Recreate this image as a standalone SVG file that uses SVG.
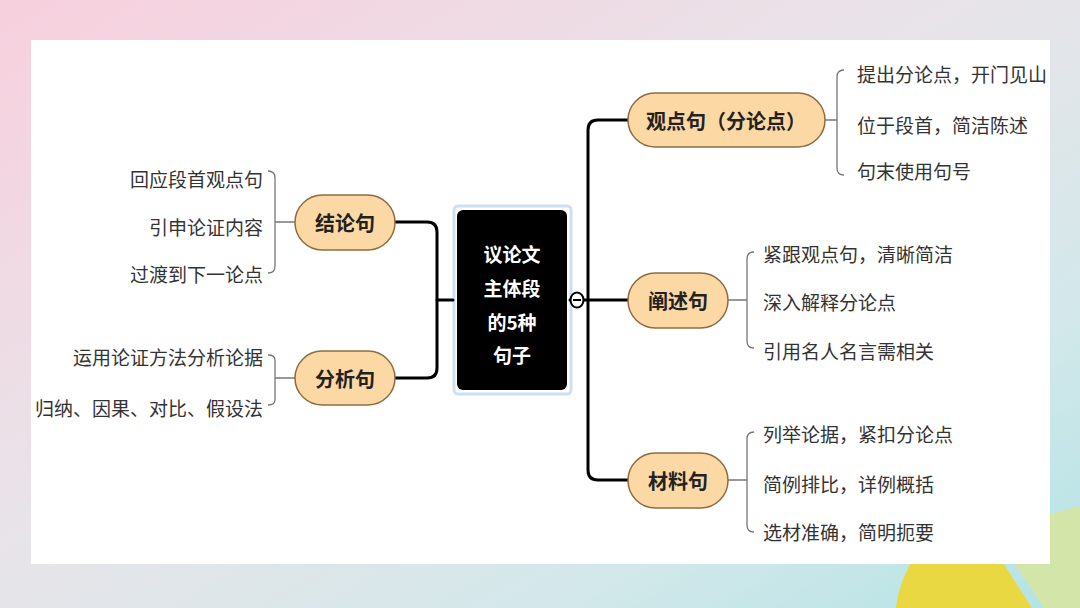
<svg xmlns="http://www.w3.org/2000/svg" width="1080" height="608" viewBox="0 0 1080 608">
<defs>
<linearGradient id="bg" x1="0" y1="0" x2="1" y2="1">
<stop offset="0" stop-color="#f7cfdd"/>
<stop offset="0.45" stop-color="#e8e4e9"/>
<stop offset="0.75" stop-color="#d3e8ea"/>
<stop offset="1" stop-color="#b3e3e6"/>
</linearGradient>
<clipPath id="yc"><polygon points="850,480 950,480 1032,608 850,608"/></clipPath>
<style>
.leaf{font-family:"Noto Sans CJK SC","Noto Sans",sans-serif;font-size:19px;fill:#333;dominant-baseline:central}
.lt{text-anchor:end}
.nt{font-family:"Noto Sans CJK SC","Noto Sans",sans-serif;font-size:20px;font-weight:bold;fill:#222;text-anchor:middle;dominant-baseline:central}
.node{fill:#fcd8a4;stroke:#8c6c44;stroke-width:1.5}
.conn{fill:none;stroke:#000;stroke-width:3;stroke-linecap:round}
.br{fill:none;stroke:#777;stroke-width:1.3}
.ct{font-family:"Noto Sans CJK SC","Noto Sans",sans-serif;font-size:19px;font-weight:bold;fill:#fff;text-anchor:middle;dominant-baseline:central}
</style>
</defs>
<rect width="1080" height="608" fill="url(#bg)"/>
<polygon points="992,530 1080,506 1080,608 1044,608" fill="#d3e5a8"/>
<circle cx="1012" cy="622" r="117" fill="#e9d842" clip-path="url(#yc)"/>
<rect x="31" y="40" width="1019" height="524" fill="#fff"/>

<g id="center">
<rect x="454" y="206" width="117" height="188" rx="4" fill="#fff" stroke="#cddff2" stroke-width="3"/>
<rect x="457" y="210" width="110" height="180" rx="6" fill="#000"/>
<text class="ct" x="512" y="253">议论文</text>
<text class="ct" x="512" y="287">主体段</text>
<text class="ct" x="512" y="321">的5种</text>
<text class="ct" x="512" y="354">句子</text>
</g>

<g id="connectors">
<path class="conn" d="M628,120 H598 Q588,120 588,130 V470 Q588,480 598,480 H628"/>
<path class="conn" d="M570,300 H628"/>
<path class="conn" d="M395,222 H427 Q437,222 437,232 V368 Q437,378 427,378 H395"/>
<path class="conn" d="M437,300 H453"/>
<ellipse cx="577" cy="300" rx="6.5" ry="7.5" fill="#fff" stroke="#000" stroke-width="2"/>
<line x1="573" y1="300" x2="581" y2="300" stroke="#000" stroke-width="2"/>
<path class="br" d="M268,171 Q275,171 275,178 V266 Q275,273 268,273 M275,222 H295"/>
<path class="br" d="M268,355 Q275,355 275,360 V400 Q275,405 268,405 M275,378 H295"/>
<path class="br" d="M844,70 Q837,70 837,77 V168 Q837,175 844,175 M825,120 H837"/>
<path class="br" d="M754,252 Q747,252 747,259 V341 Q747,348 754,348 M728,300 H747"/>
<path class="br" d="M754,432 Q747,432 747,439 V525 Q747,532 754,532 M728,480 H747"/>
</g>

<g id="jielun">
<rect class="node" x="295" y="195" width="100" height="55" rx="27.5"/>
<text class="nt" x="345" y="222">结论句</text>
<text class="leaf lt" x="263" y="178">回应段首观点句</text>
<text class="leaf lt" x="263" y="226">引申论证内容</text>
<text class="leaf lt" x="263" y="273">过渡到下一论点</text>
</g>

<g id="fenxi">
<rect class="node" x="295" y="351" width="100" height="54" rx="27"/>
<text class="nt" x="345" y="378">分析句</text>
<text class="leaf lt" x="263" y="356">运用论证方法分析论据</text>
<text class="leaf lt" x="263" y="407">归纳、因果、对比、假设法</text>
</g>

<g id="guandian">
<rect class="node" x="628" y="93" width="197" height="54" rx="27"/>
<text class="nt" x="726" y="120">观点句（分论点）</text>
<text class="leaf" x="857" y="73">提出分论点，开门见山</text>
<text class="leaf" x="857" y="124">位于段首，简洁陈述</text>
<text class="leaf" x="857" y="170">句末使用句号</text>
</g>

<g id="chanshu">
<rect class="node" x="628" y="273" width="100" height="55" rx="27.5"/>
<text class="nt" x="678" y="300">阐述句</text>
<text class="leaf" x="763" y="253">紧跟观点句，清晰简洁</text>
<text class="leaf" x="763" y="301">深入解释分论点</text>
<text class="leaf" x="763" y="350">引用名人名言需相关</text>
</g>

<g id="cailiao">
<rect class="node" x="628" y="453" width="100" height="55" rx="27.5"/>
<text class="nt" x="678" y="480">材料句</text>
<text class="leaf" x="763" y="433">列举论据，紧扣分论点</text>
<text class="leaf" x="763" y="483">简例排比，详例概括</text>
<text class="leaf" x="763" y="531">选材准确，简明扼要</text>
</g>
</svg>
